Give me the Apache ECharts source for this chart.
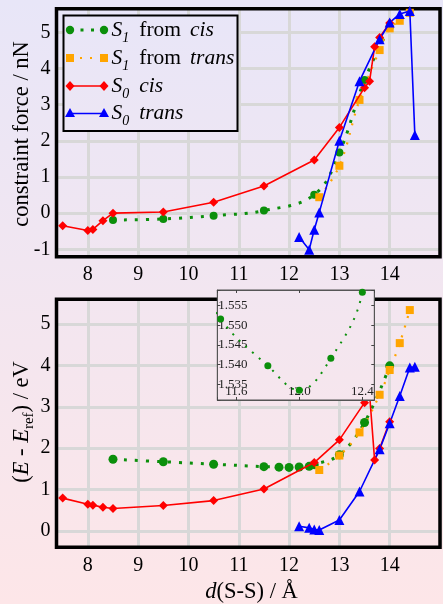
<!DOCTYPE html>
<html>
<head>
<meta charset="utf-8">
<script src="https://cdn.jsdelivr.net/npm/echarts@6/dist/echarts.min.js"></script>
<style>
  html, body { margin: 0; padding: 0; }
  #chart { width: 443px; height: 604px; }
</style>
</head>
<body>
<div id="chart"></div>
<script>
// ---- constraint force (nN) vs S-S distance (Å) ----
const s1CisForceX    = [8.5, 9.5, 10.5, 11.5, 12.5, 13.0, 13.5, 14.0];
const s1CisForce     = [-0.19, -0.16, -0.07, 0.07, 0.51, 1.68, 3.68, 5.15];
const s1TransForceX  = [12.6, 13.0, 13.4, 13.8, 14.0, 14.2, 14.4];
const s1TransForce   = [0.44, 1.31, 3.13, 4.51, 5.11, 5.32, 5.54];
const s0CisX         = [7.5, 8.0, 8.1, 8.3, 8.5, 9.5, 10.5, 11.5, 12.5, 13.0, 13.5, 13.6, 13.7, 13.8, 14.0];
const s0CisForce     = [-0.35, -0.48, -0.45, -0.21, 0.0, 0.03, 0.30, 0.75, 1.47, 2.37, 3.47, 3.65, 4.60, 4.86, 5.26];
const s0TransX       = [12.2, 12.4, 12.5, 12.6, 13.0, 13.4, 13.8, 14.0, 14.2, 14.4, 14.5];
const s0TransForce   = [-0.66, -1.01, -0.46, 0.02, 2.00, 3.65, 4.81, 5.27, 5.51, 5.59, 2.16];

// ---- relative energy (eV) vs S-S distance (Å) ----
const s1CisEnergyX   = [8.5, 9.5, 10.5, 11.5, 11.8, 12.0, 12.2, 12.4, 12.5, 13.0, 13.5, 14.0];
const s1CisEnergy    = [1.73, 1.67, 1.61, 1.5516, 1.5397, 1.5335, 1.5416, 1.5584, 1.60, 1.84, 2.62, 3.99];
const s1TransEnergyX = [12.6, 13.0, 13.4, 13.8, 14.0, 14.2, 14.4];
const s1TransEnergy  = [1.47, 1.82, 2.38, 3.29, 3.89, 4.54, 5.34];
const s0CisEnergy    = [0.79, 0.64, 0.62, 0.57, 0.54, 0.61, 0.73, 1.01, 1.65, 2.20, 3.10, 3.31, 1.71, 1.99, 2.64];
const s0TransEnergy  = [0.11, 0.07, 0.03, 0.02, 0.26, 0.95, 1.97, 2.60, 3.26, 3.95, 3.97];

// ---- tick labels ----
const distTicks   = [8, 9, 10, 11, 12, 13, 14];
const distLabels  = ['8', '9', '10', '11', '12', '13', '14'];
const forceTicks  = [-1, 0, 1, 2, 3, 4, 5];
const forceLabels = ['-1', '0', '1', '2', '3', '4', '5'];
const energyTicks = [0, 1, 2, 3, 4, 5];
const energyLabels = ['0', '1', '2', '3', '4', '5'];
const zoomXTicks  = [11.6, 12.0, 12.4];
const zoomXLabels = ['11.6', '12.0', '12.4'];
const zoomYTicks  = [1.535, 1.540, 1.545, 1.550, 1.555];
const zoomYLabels = ['1.535', '1.540', '1.545', '1.550', '1.555'];

const SERIF = 'Liberation Serif';
const GREEN = '#0b8f0b', ORANGE = '#ffa500', RED = '#ff0000', BLUE = '#0000ff';

const pageGradient = {
  type: 'linear', x: 0, y: 0, x2: 0, y2: 604, global: true,
  colorStops: [{ offset: 0, color: '#e8e6f8' }, { offset: 1, color: '#fde6e8' }]
};

function pairs(xs, ys) { return xs.map((x, i) => [x, ys[i]]); }
function labelFrom(ticks, labels) {
  return v => {
    const i = ticks.findIndex(t => Math.abs(t - v) < 1e-7);
    return i >= 0 ? labels[i] : '';
  };
}

const gridLine = { show: true, lineStyle: { color: '#d8d8d8', width: 3 } };

function mainX(gridIndex) {
  return {
    type: 'value', gridIndex, min: 7.377, max: 15, minInterval: 1, maxInterval: 1, z: 0,
    axisLine: { show: false }, axisTick: { show: false }, splitLine: gridLine,
    axisLabel: { formatter: labelFrom(distTicks, distLabels), fontFamily: SERIF, fontSize: 20, color: '#000', margin: 8 }
  };
}
function mainY(gridIndex, min, max, ticks, labels) {
  return {
    type: 'value', gridIndex, min, max, minInterval: 1, maxInterval: 1, z: 0,
    axisLine: { show: false }, axisTick: { show: false }, splitLine: gridLine,
    axisLabel: { formatter: labelFrom(ticks, labels), fontFamily: SERIF, fontSize: 20, color: '#000', margin: 6 }
  };
}

const insetTick = { show: true, inside: true, length: 3, lineStyle: { color: '#444', width: 1 } };
const insetLine = { show: true, lineStyle: { color: '#555', width: 1 } };

function dotted(name, xs, ys, color, symbol, size, xi, yi, width, dash, z) {
  return {
    name, type: 'line', xAxisIndex: xi, yAxisIndex: yi, data: pairs(xs, ys),
    symbol, symbolSize: size, smooth: 0.4, z: z || 2,
    itemStyle: { color },
    lineStyle: { color, width, type: dash }
  };
}
function solid(name, xs, ys, color, symbol, size, xi, yi) {
  return {
    name, type: 'line', xAxisIndex: xi, yAxisIndex: yi, data: pairs(xs, ys),
    symbol, symbolSize: size, z: 3,
    itemStyle: { color },
    lineStyle: { color, width: 1.6 }
  };
}

// ---- legend drawn as graphic ----
const richBase = {
  n:   { fontFamily: SERIF, fontSize: 21.5, lineHeight: 30, fill: '#000', color: '#000' },
  i:   { fontFamily: SERIF, fontSize: 21.5, fontStyle: 'italic', lineHeight: 30, fill: '#000', color: '#000' },
  sub: { fontFamily: SERIF, fontSize: 14, fontStyle: 'italic', lineHeight: 14, verticalAlign: 'bottom', fill: '#000', color: '#000' },
  g1:  { fontFamily: SERIF, fontSize: 21.5, lineHeight: 30, width: 10 },
  g2:  { fontFamily: SERIF, fontSize: 21.5, lineHeight: 30, width: 9 }
};

const legendRows = [
  { y: 30,    text: '{i|S}{sub|1}{g1| }{n|from}{g2| }{i|cis}',   color: GREEN,  kind: 'circle',   dash: [3, 7.5], lw: 3 },
  { y: 58,    text: '{i|S}{sub|1}{g1| }{n|from}{g2| }{i|trans}', color: ORANGE, kind: 'square',   dash: [2, 8],   lw: 2.2 },
  { y: 86,    text: '{i|S}{sub|0}{g1| }{i|cis}',                 color: RED,    kind: 'diamond',  dash: null,     lw: 1.6 },
  { y: 113.5, text: '{i|S}{sub|0}{g1| }{i|trans}',               color: BLUE,   kind: 'triangle', dash: null,     lw: 1.6 }
];

function legendMarker(kind, cx, cy, color) {
  if (kind === 'circle') return { type: 'circle', z: 21, shape: { cx, cy, r: 4.2 }, style: { fill: color } };
  if (kind === 'square') return { type: 'rect', z: 21, shape: { x: cx - 4, y: cy - 4, width: 8, height: 8 }, style: { fill: color } };
  if (kind === 'diamond') return { type: 'polygon', z: 21, shape: { points: [[cx, cy - 5], [cx + 4.5, cy], [cx, cy + 5], [cx - 4.5, cy]] }, style: { fill: color } };
  return { type: 'polygon', z: 21, shape: { points: [[cx, cy - 5.5], [cx + 5, cy + 3.5], [cx - 5, cy + 3.5]] }, style: { fill: color } };
}

const legendElements = [{
  type: 'rect', z: 20,
  shape: { x: 63.5, y: 15.5, width: 174, height: 115.5 },
  style: { fill: pageGradient, stroke: '#000', lineWidth: 2 }
}];
legendRows.forEach(r => {
  legendElements.push({
    type: 'polyline', z: 20,
    shape: { points: [[70, r.y], [104, r.y]] },
    style: { stroke: r.color, lineWidth: r.lw, lineDash: r.dash || null, fill: null }
  });
  legendElements.push(legendMarker(r.kind, 70, r.y, r.color));
  legendElements.push(legendMarker(r.kind, 104, r.y, r.color));
  legendElements.push({
    type: 'text', z: 21, x: 111.5, y: r.y,
    style: { text: r.text, rich: richBase, textAlign: 'left', textVerticalAlign: 'middle', align: 'left', verticalAlign: 'middle' }
  });
});

// ---- axis titles ----
const titleRich = {
  n:   { fontFamily: SERIF, fontSize: 22.5, lineHeight: 30, fill: '#000', color: '#000' },
  i:   { fontFamily: SERIF, fontSize: 22.5, fontStyle: 'italic', lineHeight: 30, fill: '#000', color: '#000' },
  sub: { fontFamily: SERIF, fontSize: 15, lineHeight: 15, verticalAlign: 'bottom', fill: '#000', color: '#000' }
};
const titleElements = [
  { type: 'text', z: 21, x: 22, y: 134, rotation: Math.PI / 2,
    style: { text: '{n|constraint force / nN}', rich: titleRich, textAlign: 'center', textVerticalAlign: 'middle', align: 'center', verticalAlign: 'middle' } },
  { type: 'text', z: 21, x: 22, y: 422, rotation: Math.PI / 2,
    style: { text: '{n|(}{i|E}{n| - }{i|E}{sub|ref}{n|) / eV}', rich: titleRich, textAlign: 'center', textVerticalAlign: 'middle', align: 'center', verticalAlign: 'middle' } },
  { type: 'text', z: 21, x: 251.5, y: 592,
    style: { text: '{i|d}{n|(S-S) / Å}', rich: titleRich, textAlign: 'center', textVerticalAlign: 'middle', align: 'center', verticalAlign: 'middle' } }
];

const option = {
  animation: false,
  backgroundColor: pageGradient,
  textStyle: { fontFamily: SERIF },
  grid: [
    { left: 56.5, top: 8.7, width: 401.1, height: 248, show: true, z: 1,
      backgroundColor: 'transparent', borderColor: '#000', borderWidth: 3.5 },
    { left: 56.5, top: 299.3, width: 401.1, height: 248, show: true, z: 1,
      backgroundColor: 'transparent', borderColor: '#000', borderWidth: 3.5 },
    { left: 217.3, top: 290, width: 157, height: 110, show: true, z: 5,
      backgroundColor: pageGradient, borderColor: '#555', borderWidth: 1 }
  ],
  xAxis: [
    mainX(0),
    mainX(1),
    { type: 'value', gridIndex: 2, min: 11.479, max: 12.476, minInterval: 0.4, maxInterval: 0.4, z: 6,
      axisLine: insetLine, axisTick: insetTick, splitLine: { show: false },
      axisLabel: { inside: true, margin: 2, formatter: labelFrom(zoomXTicks, zoomXLabels), fontFamily: SERIF, fontSize: 13, color: '#222' } },
    { type: 'value', gridIndex: 2, position: 'top', min: 11.479, max: 12.476, minInterval: 0.4, maxInterval: 0.4, z: 6,
      axisLine: insetLine, axisTick: insetTick, splitLine: { show: false }, axisLabel: { show: false } }
  ],
  yAxis: [
    mainY(0, -1.205, 5.654, forceTicks, forceLabels),
    mainY(1, -0.40, 5.60, energyTicks, energyLabels),
    { type: 'value', gridIndex: 2, min: 1.531, max: 1.559, minInterval: 0.005, maxInterval: 0.005, z: 6,
      axisLine: insetLine, axisTick: insetTick, splitLine: { show: false },
      axisLabel: { inside: true, margin: 1, formatter: labelFrom(zoomYTicks, zoomYLabels), fontFamily: SERIF, fontSize: 13, color: '#222' } },
    { type: 'value', gridIndex: 2, position: 'right', min: 1.531, max: 1.559, minInterval: 0.005, maxInterval: 0.005, z: 6,
      axisLine: insetLine, axisTick: insetTick, splitLine: { show: false }, axisLabel: { show: false } }
  ],
  series: [
    // constraint force
    dotted('S1 from cis',   s1CisForceX,   s1CisForce,   GREEN,  'circle', 8, 0, 0, 3, [3, 8]),
    dotted('S1 from trans', s1TransForceX, s1TransForce, ORANGE, 'rect',   8, 0, 0, 2.2, [2, 8]),
    solid('S0 cis',   s0CisX,   s0CisForce,   RED,  'diamond',  9, 0, 0),
    solid('S0 trans', s0TransX, s0TransForce, BLUE, 'triangle', 10, 0, 0),
    // relative energy
    dotted('S1 from cis',   s1CisEnergyX,   s1CisEnergy,   GREEN,  'circle', 9, 1, 1, 3, [3, 8]),
    dotted('S1 from trans', s1TransEnergyX, s1TransEnergy, ORANGE, 'rect',   8, 1, 1, 2.2, [2, 8]),
    solid('S0 cis',   s0CisX,   s0CisEnergy,   RED,  'diamond',  9, 1, 1),
    solid('S0 trans', s0TransX, s0TransEnergy, BLUE, 'triangle', 10, 1, 1),
    // close-up of the S1 minimum
    dotted('S1 from cis (detail)', s1CisEnergyX, s1CisEnergy, GREEN, 'circle', 7, 2, 2, 2, [2, 7], 7)
  ],
  graphic: { elements: legendElements.concat(titleElements) }
};

const chart = echarts.init(document.getElementById('chart'), null, { renderer: 'canvas' });
chart.setOption(option);
</script>
</body>
</html>
